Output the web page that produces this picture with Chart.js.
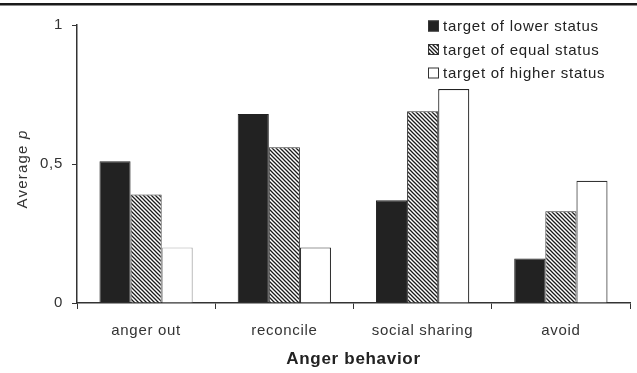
<!DOCTYPE html>
<html>
<head>
<meta charset="utf-8">
<script src="https://cdn.jsdelivr.net/npm/chart.js@4"></script>
<style>
  html, body { margin: 0; padding: 0; background: #fff; }
  #wrap { width: 637px; height: 373px; }
</style>
</head>
<body>
<div id="wrap"><canvas id="chart" width="637" height="373"></canvas></div>
<script>
const categories = ['anger out', 'reconcile', 'social sharing', 'avoid'];
const seriesNames = ['target of lower status', 'target of equal status', 'target of higher status'];
const lowerStatus = [0.51, 0.68, 0.37, 0.16];
const equalStatus = [0.39, 0.56, 0.69, 0.33];
const higherStatus = [0.20, 0.20, 0.77, 0.44];
const yTicks = [0, 0.5, 1];

const FONT = "'Liberation Sans', Arial, sans-serif";

function hatch() {
  const c = document.createElement('canvas');
  c.width = 4;
  c.height = 4;
  const g = c.getContext('2d');
  g.fillStyle = '#fff';
  g.fillRect(0, 0, 4, 4);
  g.strokeStyle = '#1a1a1a';
  g.lineWidth = 1.3;
  g.beginPath();
  g.moveTo(-1, -1); g.lineTo(5, 5);
  g.moveTo(-1, 3); g.lineTo(1, 5);
  g.moveTo(3, -1); g.lineTo(5, 1);
  g.stroke();
  return g.createPattern(c, 'repeat');
}

// thick rule across the top + looser text spacing like the scan
const topRule = {
  id: 'topRule',
  beforeDraw(chart) {
    const ctx = chart.ctx;
    ctx.letterSpacing = '0.7px';
    ctx.save();
    ctx.fillStyle = '#1a1a1a';
    ctx.fillRect(0, 3, chart.width, 2.5);
    ctx.restore();
  }
};

const sideLegend = {
  id: 'sideLegend',
  afterDraw(chart) {
    const ctx = chart.ctx;
    ctx.save();
    ctx.letterSpacing = '0.75px';
    ctx.font = `15px ${FONT}`;
    ctx.textBaseline = 'middle';
    chart.data.datasets.forEach((ds, i) => {
      const y = 26 + i * 23.5;
      ctx.fillStyle = ds.backgroundColor;
      ctx.fillRect(428, y - 5.5, 11, 11);
      ctx.strokeStyle = '#333';
      ctx.lineWidth = 1;
      ctx.strokeRect(428.5, y - 5, 10, 10);
      ctx.fillStyle = '#222';
      ctx.fillText(ds.label, 443, y + 1);
    });
    ctx.restore();
  }
};

const yTitle = {
  id: 'yTitle',
  afterDraw(chart) {
    const ctx = chart.ctx;
    const a = chart.chartArea;
    ctx.save();
    ctx.letterSpacing = '1.2px';
    ctx.translate(23, (a.top + a.bottom) / 2 + 5);
    ctx.rotate(-Math.PI / 2);
    ctx.fillStyle = '#333';
    ctx.textBaseline = 'middle';
    const base = `15px ${FONT}`;
    const ital = `italic 15px ${FONT}`;
    ctx.font = base;
    const w1 = ctx.measureText('Average ').width;
    ctx.font = ital;
    const w2 = ctx.measureText('p').width;
    const x0 = -(w1 + w2) / 2;
    ctx.font = base;
    ctx.fillText('Average ', x0, 0);
    ctx.font = ital;
    ctx.fillText('p', x0 + w1, 0);
    ctx.restore();
  }
};

new Chart(document.getElementById('chart'), {
  type: 'bar',
  data: {
    labels: categories,
    datasets: [
      { label: seriesNames[0], data: lowerStatus, backgroundColor: '#222', borderColor: '#222', borderWidth: 1 },
      { label: seriesNames[1], data: equalStatus, backgroundColor: hatch(), borderColor: '#333', borderWidth: 1 },
      { label: seriesNames[2], data: higherStatus, backgroundColor: '#fff', borderColor: ['#aaa', '#333', '#222', '#333'], borderWidth: 1.2 }
    ]
  },
  options: {
    responsive: false,
    animation: false,
    categoryPercentage: 0.675,
    barPercentage: 1,
    layout: { padding: { top: 25, right: 7, left: 0, bottom: 0 } },
    plugins: { legend: { display: false }, tooltip: { enabled: false } },
    scales: {
      x: {
        grid: { display: true, drawOnChartArea: false, drawTicks: true, tickLength: 6, color: '#333', offset: true },
        border: { display: true, color: '#333', width: 1.5 },
        ticks: { color: '#333', font: { family: FONT, size: 15 }, padding: 13, maxRotation: 0 },
        title: { display: true, text: 'Anger behavior', color: '#222', font: { family: FONT, size: 17, weight: 'bold' }, padding: { top: 4, bottom: 3 } },
        afterFit(scale) { scale.height = 70; }
      },
      y: {
        min: 0,
        max: 1,
        afterBuildTicks(scale) { scale.ticks = yTicks.map((v) => ({ value: v })); },
        grid: { display: true, drawOnChartArea: false, drawTicks: true, tickLength: 5, color: '#333' },
        border: { display: true, color: '#333', width: 1.5 },
        ticks: {
          color: '#333',
          font: { family: FONT, size: 15 },
          padding: 9,
          callback: (v) => String(v).replace('.', ',')
        },
        afterFit(scale) { scale.width = 77; }
      }
    }
  },
  plugins: [topRule, sideLegend, yTitle]
});
</script>
</body>
</html>
